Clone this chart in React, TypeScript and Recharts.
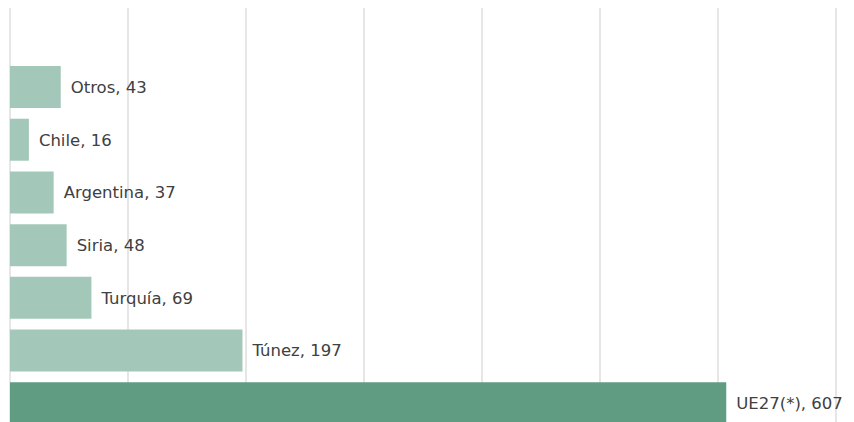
import { BarChart, Bar, XAxis, YAxis, CartesianGrid, LabelList, Cell } from 'recharts';

const paises = ['Otros', 'Chile', 'Argentina', 'Siria', 'Turquía', 'Túnez', 'UE27(*)'];
const toneladas = [43, 16, 37, 48, 69, 197, 607];
const ticks = [0, 100, 200, 300, 400, 500, 600, 700];

const data = paises.map((p, i) => ({
  pais: p,
  valor: toneladas[i],
  etiqueta: `${p}, ${toneladas[i]}`,
}));

export default function App() {
  return (
    <div style={{ width: 846, height: 414, overflow: 'hidden' }}>
      <BarChart
        width={846}
        height={422}
        data={data}
        layout="vertical"
        margin={{ top: 0, right: 18, bottom: 0, left: 2 }}
        barSize={42}
      >
        <CartesianGrid horizontal={false} stroke="#dedede" strokeWidth={1.5} />
        <XAxis type="number" hide domain={[0, 700]} ticks={ticks} />
        <YAxis type="category" dataKey="pais" hide padding={{ top: 53, bottom: 0 }} />
        <Bar dataKey="valor" isAnimationActive={false}>
          {data.map((d, i) => (
            <Cell key={d.pais} fill={i === data.length - 1 ? '#5f9c82' : '#a3c7b8'} />
          ))}
          <LabelList
            dataKey="etiqueta"
            position="right"
            offset={10}
            style={{ fill: '#404040', fontSize: 16.5, fontFamily: '"DejaVu Sans", sans-serif' }}
          />
        </Bar>
      </BarChart>
    </div>
  );
}
